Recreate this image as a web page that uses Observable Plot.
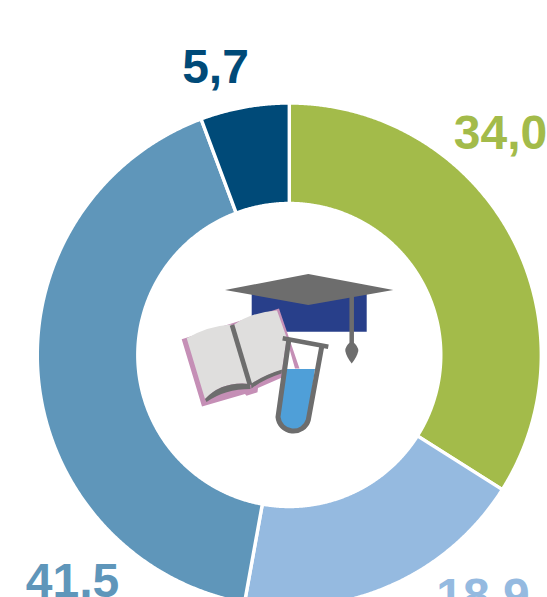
<!DOCTYPE html>
<html>
<head>
<meta charset="utf-8">
<style>
html,body{margin:0;padding:0;background:#fff;overflow:hidden}
svg{display:block}
</style>
<script src="https://cdn.jsdelivr.net/npm/d3@7"></script>
<script src="https://cdn.jsdelivr.net/npm/@observablehq/plot@0.6"></script>
</head>
<body>
<div id="chart"></div>
<script>
const categories = ["A", "B", "C", "D"];
const values = [34.0, 18.9, 41.5, 5.7];
const valueLabels = ["34,0", "18,9", "41,5", "5,7"];
const colors = ["#a3bb4a", "#95bae0", "#5f96ba", "#004a78"];

// layout (separate from the data)
const W = 547, H = 597;
const cx = 289.3, cy = 355;
const rOuter = 252, rInner = 151.5;
const labelX = [500, 482.5, 72, 215];
const labelY = [148, 611, 596, 82];

const pies = d3.pie().sort(null).value(d => d).startAngle(0).endAngle(2 * Math.PI)(values);
const ring = pies.flatMap((p, i) => {
  const n = Math.max(2, Math.ceil((p.endAngle - p.startAngle) / 0.005));
  return d3.range(n + 1).map(k => {
    const a = p.startAngle + (p.endAngle - p.startAngle) * k / n;
    return {
      category: categories[i],
      x1: cx + rOuter * Math.sin(a), y1: cy - rOuter * Math.cos(a),
      x2: cx + rInner * Math.sin(a), y2: cy - rInner * Math.cos(a)
    };
  });
});
const labels = categories.map((c, i) => ({category: c, text: valueLabels[i], x: labelX[i], y: labelY[i]}));

function icon() {
  const g = d3.create("svg:g");
  const GRAY = "#6d6d6d";
  const path = (d, attrs) => {
    const p = g.append("path").attr("d", d);
    Object.entries(attrs).forEach(([k, v]) => p.attr(k, v));
  };
  // cap
  path("M251.7 293H366.7V331.7H251.7Z", {fill: "#283f8a"});
  path("M225 290L308.3 274L393.3 290L308.3 305Z", {fill: GRAY});
  path("M351.7 295V345", {stroke: GRAY, "stroke-width": 4.5, fill: "none"});
  path("M351.7 341Q345 346 345.3 351Q346.5 357 351.7 363.5Q357 357 358.3 351Q358.4 346 351.7 341Z", {fill: GRAY});
  // book cover
  path("M181.7 339.3L279 308.5L299.5 368.5L295 368.5L287.5 342L282 377.5L258 388L257.5 392.3L246.5 395.7L245 394L202 406.5Z", {fill: "#c58fb6"});
  // pages
  path("M186.7 338.3Q208 326 231 324.5L250 384Q222 381 205 399Z", {fill: "#dfdedd"});
  path("M233.5 325Q252 312 277 310.5L286.8 338L282 370Q264 375 251 384Z", {fill: "#dfdedd"});
  path("M205 399Q222 381 250 384L250.5 389Q225 389 206.5 402Z", {fill: GRAY});
  path("M251 384Q264 375 282 369.5L281.5 373.5Q264 379 251.5 388.5Z", {fill: GRAY});
  path("M232 325L250 385", {stroke: GRAY, "stroke-width": 4.7, fill: "none"});
  // tube
  path("M286 369L315 369L308 418A14.5 14.5 0 0 1 279.3 414Z", {fill: "#4f9fd8"});
  path("M288.8 340L278 417A15.5 15.5 0 0 0 308.3 420L321.7 346.7", {stroke: GRAY, "stroke-width": 5, fill: "none"});
  path("M282.7 338.3L328.3 346.7", {stroke: GRAY, "stroke-width": 4.7, fill: "none"});
  return g.node();
}

const chart = Plot.plot({
  width: W, height: H,
  margin: 0,
  x: {domain: [0, W], range: [0, W], axis: null},
  y: {domain: [0, H], range: [0, H], axis: null},
  color: {domain: categories, range: colors},
  marks: [
    Plot.area(ring, {x1: "x1", y1: "y1", x2: "x2", y2: "y2", z: "category", fill: "category", stroke: "white", strokeWidth: 3.4, curve: "linear"}),
    Plot.text(labels, {x: "x", y: "y", text: "text", fill: "category", fontFamily: "Liberation Sans", fontWeight: "bold", fontSize: 48, textAnchor: "middle", lineAnchor: "bottom"}),
    icon
  ]
});
document.getElementById("chart").append(chart);
</script>
</body>
</html>
